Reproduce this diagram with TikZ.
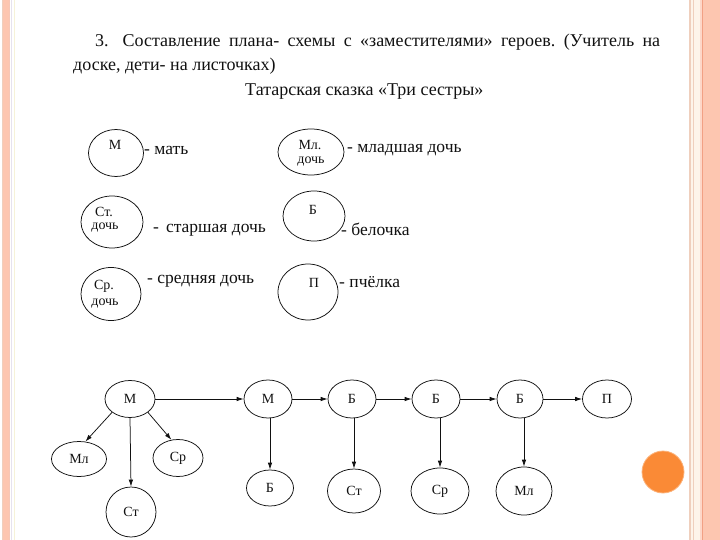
\documentclass[tikz,border=0pt]{standalone}
\usepackage{fontspec}
\setmainfont{Liberation Serif}
\usetikzlibrary{shapes.geometric,arrows.meta}
\definecolor{pinkfill}{HTML}{FDC6B0}
\definecolor{salmon}{HTML}{F2A084}
\definecolor{cream}{HTML}{FDF4EA}
\definecolor{tanline}{HTML}{EFCFBD}
\definecolor{lav}{HTML}{E6E2EE}
\definecolor{paley}{HTML}{F6F2D8}
\definecolor{orangedot}{HTML}{FA8A36}
\definecolor{orangeedge}{HTML}{FCB27A}
\definecolor{ink}{HTML}{111111}
\frenchspacing
\tikzset{
  ell/.style={draw=ink, ellipse, line width=0.75pt, inner sep=0pt},
  arr/.style={-{Latex[length=7pt,width=4.5pt]}, line width=0.75pt, draw=ink},
  bigtxt/.style={font=\fontsize{18}{21}\selectfont, inner sep=0pt, text=ink},
  legtxt/.style={font=\fontsize{17.5}{20}\selectfont, inner sep=0pt, anchor=west, text=ink},
  intxt/.style={font=\fontsize{14}{16}\selectfont, inner sep=0pt, text=ink},
  smtxt/.style={font=\fontsize{14}{16}\selectfont, inner sep=0pt, text=ink},
  nodetxt/.style={font=\fontsize{14}{16}\selectfont, text=ink},
}
\begin{document}
\begin{tikzpicture}[x=1pt,y=-1pt]
\useasboundingbox (0,0) rectangle (720,540);
\fill[white] (0,0) rectangle (720,540);
% left border
\fill[tanline] (2,0) rectangle (3,540);
\fill[pinkfill] (3,0) rectangle (9,540);
\fill[salmon!60] (9,0) rectangle (10,540);
\fill[lav] (11,0) rectangle (12,540);
\fill[paley] (14,0) rectangle (15,540);
% right border
\fill[tanline] (689,0) rectangle (691,540);
\fill[cream] (691,0) rectangle (693,540);
\fill[tanline] (693,0) rectangle (694,540);
\fill[cream] (694,0) rectangle (700,540);
\fill[pinkfill!70] (700,0) rectangle (702,540);
\fill[salmon] (702,0) rectangle (703,540);
\fill[pinkfill] (703,0) rectangle (720,540);
% orange dot
\fill[orangedot, draw=orangeedge, line width=0.8pt] (663,472) circle (21);

% heading text
\node[bigtxt, anchor=base west] (l1) at (95,47) {\makebox[565pt][s]{3.\hspace{14pt}Составление плана- схемы с «заместителями» героев. (Учитель на}};
\node[bigtxt, anchor=base west] (l2) at (73,71) {доске, дети- на листочках)};
\node[bigtxt, anchor=base west] (l3) at (245,96) {Татарская сказка «Три сестры»};

% legend ellipses
\node[ell, minimum width=55pt, minimum height=47pt] (cM) at (116,153) {};
\node[intxt] (tM) at (115,145) {М};
\node[legtxt] (dM) at (144,150) {- мать};

\node[ell, minimum width=62pt, minimum height=52pt] (cSt) at (112,222) {};
\node[smtxt] (tSt1) at (104,212) {Ст.};
\node[smtxt] (tSt2) at (105,228) {дочь};
\node[legtxt] (dSt) at (153,230) {-\hspace{7pt}старшая дочь};

\node[ell, minimum width=60pt, minimum height=53pt] (cCp) at (111,294) {};
\node[smtxt] (tCp1) at (104,286) {Ср.};
\node[smtxt] (tCp2) at (105,304) {дочь};
\node[legtxt] (dCp) at (147,281) {- средняя дочь};

\node[ell, minimum width=66pt, minimum height=46pt] (cMl) at (311,152) {};
\node[smtxt] (tMl1) at (310,145) {Мл.};
\node[smtxt] (tMl2) at (311,162) {дочь};
\node[legtxt] (dMl) at (347,150) {- младшая дочь};

\node[ell, minimum width=62pt, minimum height=50pt] (cB) at (314,216) {};
\node[intxt] (tB) at (313,210) {Б};
\node[legtxt] (dB) at (341,229) {- белочка};

\node[ell, minimum width=60pt, minimum height=56pt] (cP) at (308,292) {};
\node[intxt] (tP) at (314,283) {П};
\node[legtxt] (dP) at (339,282) {- пчёлка};

% scheme
\node[ell, nodetxt, minimum width=50pt, minimum height=37pt] (M1) at (130,399) {М};
\node[ell, nodetxt, minimum width=55pt, minimum height=35pt] (Ml) at (79,459) {Мл};
\node[ell, nodetxt, minimum width=50pt, minimum height=37pt] (Cp) at (178,458) {Ср};
\node[ell, nodetxt, minimum width=50pt, minimum height=50pt] (St) at (131,512) {Ст};

\node[ell, nodetxt, minimum width=48pt, minimum height=38pt] (M2) at (268,399) {М};
\node[ell, nodetxt, minimum width=48pt, minimum height=38pt] (B1) at (352,399) {Б};
\node[ell, nodetxt, minimum width=48pt, minimum height=38pt] (B2) at (436,399) {Б};
\node[ell, nodetxt, minimum width=46pt, minimum height=38pt] (B3) at (520,399) {Б};
\node[ell, nodetxt, minimum width=49pt, minimum height=38pt] (P2) at (607,399) {П};

\node[ell, nodetxt, minimum width=47pt, minimum height=36pt] (Bb) at (270,488) {Б};
\node[ell, nodetxt, minimum width=53pt, minimum height=44pt] (St2) at (354,491) {Ст};
\node[ell, nodetxt, minimum width=58pt, minimum height=46pt] (Cp2) at (440,491) {Ср};
\node[ell, nodetxt, minimum width=56pt, minimum height=48pt] (Ml2) at (524,491) {Мл};

\draw[arr] (M1.south west) -- (Ml.70);
\draw[arr] (M1.south) -- (St.north);
\draw[arr] (M1.south east) -- (Cp.110);
\draw[arr] (M1.east) -- (M2.west);
\draw[arr] (M2.east) -- (B1.west);
\draw[arr] (B1.east) -- (B2.west);
\draw[arr] (B2.east) -- (B3.west);
\draw[arr] (B3.east) -- (P2.west);
\draw[arr] (M2.south -| Bb.north) -- (Bb.north);
\draw[arr] (B1.south -| St2.north) -- (St2.north);
\draw[arr] (B2.south -| Cp2.north) -- (Cp2.north);
\draw[arr] (B3.south -| Ml2.north) -- (Ml2.north);
\end{tikzpicture}
\end{document}
